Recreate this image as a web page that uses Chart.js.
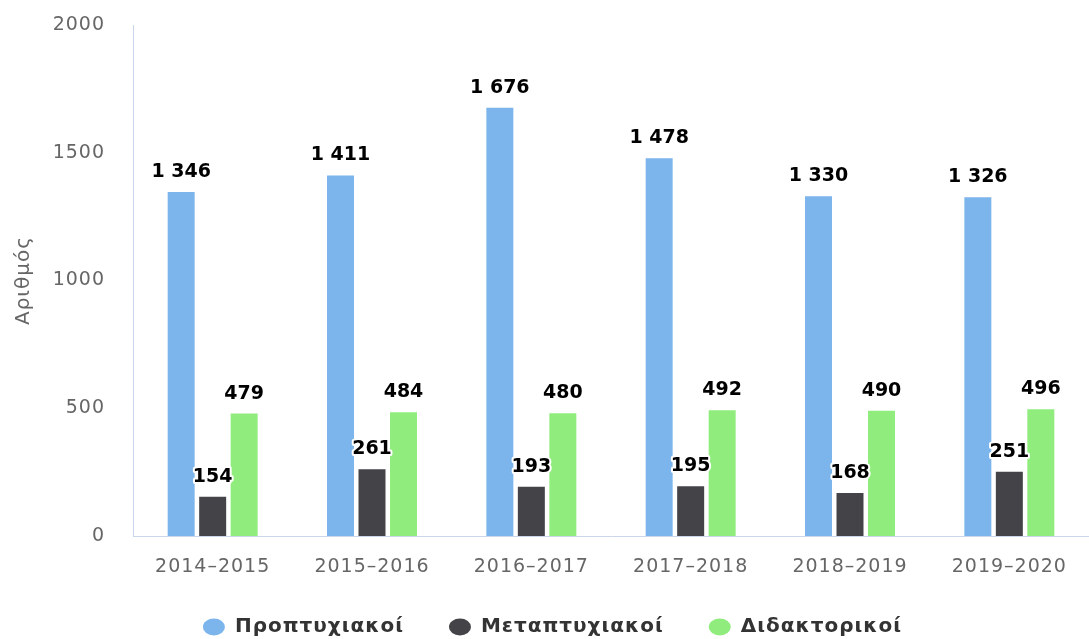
<!DOCTYPE html>
<html>
<head>
<meta charset="utf-8">
<script src="https://cdn.jsdelivr.net/npm/chart.js@4.4.0/dist/chart.umd.min.js"></script>
<style>
  html, body { margin: 0; padding: 0; background: #ffffff; }
  #wrap { width: 1089px; height: 639px; position: relative; }
</style>
</head>
<body>
<div id="wrap"><canvas id="c" width="1089" height="639"></canvas></div>
<script>
const categories = ['2014–2015', '2015–2016', '2016–2017', '2017–2018', '2018–2019', '2019–2020'];
const undergrad = [1346, 1411, 1676, 1478, 1330, 1326];
const postgrad = [154, 261, 193, 195, 168, 251];
const doctoral = [479, 484, 480, 492, 490, 496];
const seriesNames = ['Προπτυχιακοί', 'Μεταπτυχιακοί', 'Διδακτορικοί'];
const yTicks = [0, 500, 1000, 1500, 2000];
const yTitle = 'Αριθμός';

const FONT = "'DejaVu Sans', sans-serif";

function fmt(v) {
  return String(v).replace(/\B(?=(\d{3})+(?!\d))/g, ' ');
}

const spacing = {
  id: 'spacing',
  beforeUpdate(chart) { chart.ctx.letterSpacing = '1px'; },
  beforeRender(chart) { chart.ctx.letterSpacing = '1px'; }
};

const dataLabels = {
  id: 'dataLabels',
  afterDatasetsDraw(chart) {
    const ctx = chart.ctx;
    ctx.save();
    ctx.letterSpacing = '0px';
    ctx.font = 'bold 19px ' + FONT;
    ctx.textAlign = 'center';
    ctx.textBaseline = 'middle';
    ctx.lineJoin = 'round';
    chart.data.datasets.forEach((ds, i) => {
      const meta = chart.getDatasetMeta(i);
      meta.data.forEach((bar, j) => {
        const txt = fmt(ds.data[j]);
        const x = bar.x, y = bar.y - 20;
        ctx.lineWidth = 4;
        ctx.strokeStyle = '#ffffff';
        ctx.strokeText(txt, x, y);
        ctx.fillStyle = '#000000';
        ctx.fillText(txt, x, y);
      });
    });
    ctx.restore();
  }
};

const common = {
  borderWidth: 0,
  categoryPercentage: 0.593,
  barPercentage: 0.857
};

new Chart(document.getElementById('c'), {
  type: 'bar',
  data: {
    labels: categories,
    datasets: [
      Object.assign({ label: seriesNames[0], data: undergrad, backgroundColor: '#7cb5ec' }, common),
      Object.assign({ label: seriesNames[1], data: postgrad, backgroundColor: '#434348' }, common),
      Object.assign({ label: seriesNames[2], data: doctoral, backgroundColor: '#90ed7d' }, common)
    ]
  },
  options: {
    responsive: false,
    animation: false,
    layout: { padding: { top: 25, right: 0, bottom: -8, left: 16 } },
    plugins: {
      tooltip: { enabled: false },
      legend: {
        position: 'bottom',
        labels: {
          usePointStyle: true,
          pointStyle: 'circle',
          pointStyleWidth: 22,
          boxHeight: 12,
          padding: 45,
          color: '#333333',
          font: { family: FONT, size: 20, weight: 'bold' }
        }
      }
    },
    scales: {
      x: {
        grid: { display: false, drawTicks: false },
        border: { display: true, color: '#ccd6eb', width: 1 },
        ticks: {
          color: '#666666',
          padding: 20,
          maxRotation: 0,
          font: { family: FONT, size: 19 }
        },
        afterFit(scale) { scale.height = 36; }
      },
      y: {
        min: 0,
        max: 2000,
        afterBuildTicks(scale) { scale.ticks = yTicks.map(v => ({ value: v })); },
        grid: { display: false, drawTicks: false },
        border: { display: true, color: '#ccd6eb', width: 1 },
        ticks: {
          color: '#666666',
          padding: 28,
          font: { family: FONT, size: 19 },
          callback: v => String(v)
        },
        title: {
          display: true,
          text: yTitle,
          color: '#666666',
          padding: { top: -4, bottom: 0 },
          font: { family: FONT, size: 20 }
        },
        afterFit(scale) {
          scale.width = 117;
          scale.paddingTop = 0;
          scale.paddingBottom = 0;
        }
      }
    }
  },
  plugins: [spacing, dataLabels]
});
</script>
</body>
</html>
